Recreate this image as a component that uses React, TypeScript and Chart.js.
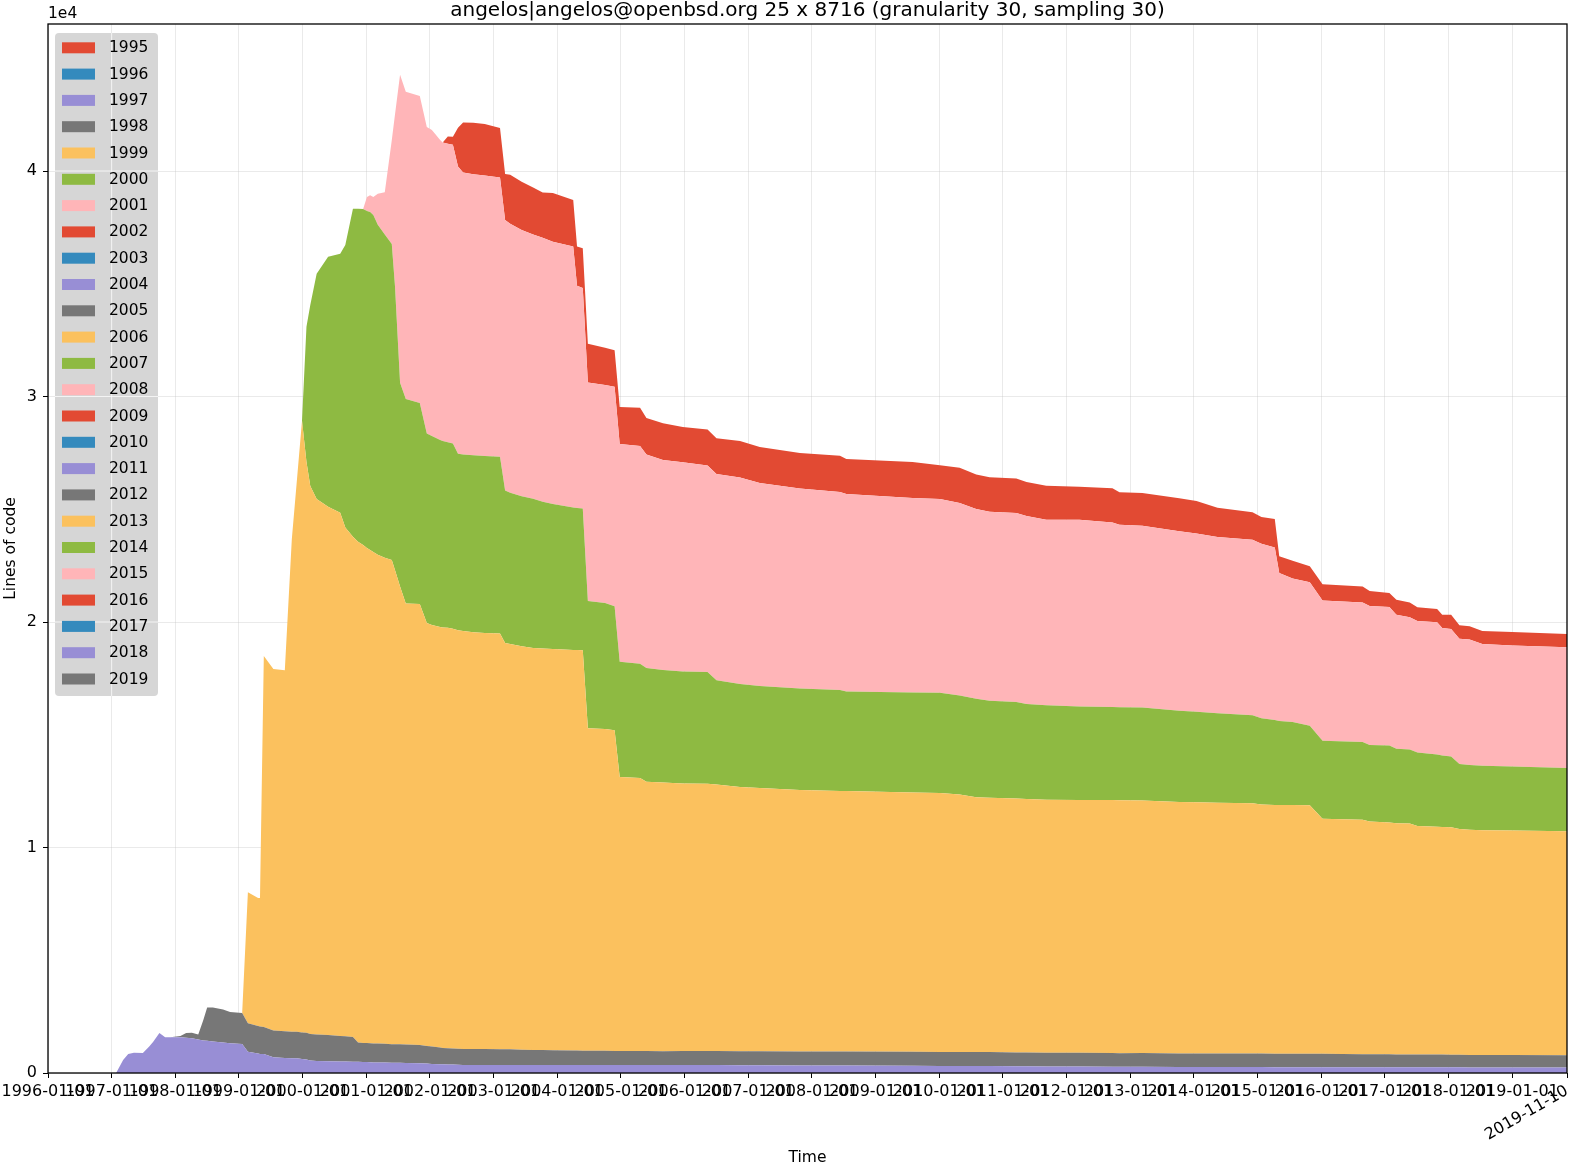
import React, { useEffect, useRef } from 'react';
import { Chart, registerables } from 'chart.js';

Chart.register(...registerables);

const TITLE = 'angelos|angelos@openbsd.org 25 x 8716 (granularity 30, sampling 30)';
const Y_LABEL = 'Lines of code';
const X_LABEL = 'Time';
const Y_OFFSET_LABEL = '1e4';
const END_DATE_LABEL = '2019-11-10';

const LEGEND_YEARS = [
  '1995', '1996', '1997', '1998', '1999', '2000', '2001', '2002', '2003', '2004',
  '2005', '2006', '2007', '2008', '2009', '2010', '2011', '2012', '2013', '2014',
  '2015', '2016', '2017', '2018', '2019',
];
const PALETTE = ['#E24A33', '#348ABD', '#988ED5', '#777777', '#FBC15E', '#8EBA42', '#FFB5B8'];

const X_TICK_YEARS = [
  1996, 1997, 1998, 1999, 2000, 2001, 2002, 2003, 2004, 2005, 2006, 2007,
  2008, 2009, 2010, 2011, 2012, 2013, 2014, 2015, 2016, 2017, 2018, 2019,
];
const X_START = 1996;
const X_END = 2019.86;
const Y_TICKS = [0, 10000, 20000, 30000, 40000];
const Y_MAX = 46520;

// sample dates (decimal years)
const X = [
  1996.00, 1997.05, 1997.07, 1997.18, 1997.26, 1997.35, 1997.49, 1997.59, 1997.65, 1997.75,
  1997.84, 1997.92, 1998.08, 1998.17, 1998.26, 1998.36, 1998.44, 1998.50, 1998.59, 1998.75,
  1998.86, 1999.05, 1999.14, 1999.30, 1999.33, 1999.39, 1999.54, 1999.72, 1999.83, 1999.91,
  1999.99, 2000.06, 2000.12, 2000.22, 2000.40, 2000.59, 2000.67, 2000.79, 2000.87, 2000.95,
  2001.01, 2001.06, 2001.11, 2001.18, 2001.29, 2001.40, 2001.45, 2001.53, 2001.62, 2001.84,
  2001.95, 2002.03, 2002.16, 2002.20, 2002.28, 2002.36, 2002.44, 2002.52, 2002.68, 2002.86,
  2003.10, 2003.18, 2003.26, 2003.44, 2003.62, 2003.77, 2003.93, 2004.25, 2004.31, 2004.40,
  2004.48, 2004.75, 2004.90, 2004.98, 2005.30, 2005.40, 2005.66, 2005.97, 2006.36, 2006.50,
  2006.87, 2007.18, 2007.81, 2008.44, 2008.54, 2009.58, 2010.01, 2010.32, 2010.58, 2010.79,
  2011.21, 2011.37, 2011.68, 2012.20, 2012.72, 2012.83, 2013.19, 2013.77, 2014.04, 2014.37,
  2014.92, 2015.06, 2015.27, 2015.34, 2015.55, 2015.82, 2016.02, 2016.65, 2016.76, 2017.07,
  2017.18, 2017.39, 2017.51, 2017.82, 2017.90, 2018.04, 2018.17, 2018.33, 2018.53, 2019.00,
  2019.86,
];

const S1997 = [
  0, 0, 0, 580, 840, 900, 890, 1170, 1370, 1770,
  1580, 1580, 1580, 1560, 1540, 1490, 1440, 1430, 1400, 1350,
  1320, 1290, 940, 860, 840, 840, 700, 670, 650, 650,
  620, 600, 550, 530, 520, 510, 510, 500, 500, 490,
  490, 480, 470, 470, 470, 460, 460, 450, 440, 430,
  420, 400, 390, 390, 380, 380, 370, 360, 350, 350,
  350, 350, 350, 350, 350, 350, 350, 350, 350, 350,
  350, 350, 350, 350, 350, 350, 350, 350, 350, 350,
  340, 340, 330, 330, 330, 320, 310, 310, 310, 310,
  300, 300, 290, 290, 280, 280, 280, 270, 270, 270,
  270, 270, 260, 260, 260, 260, 260, 250, 250, 250,
  250, 250, 250, 250, 250, 250, 250, 240, 240, 240,
  240,
];

const S1998 = [
  0, 0, 0, 0, 0, 0, 0, 0, 0, 0,
  0, 0, 60, 210, 240, 220, 910, 1470, 1510, 1470,
  1390, 1370, 1270, 1220, 1220, 1200, 1180, 1180, 1180, 1180,
  1180, 1180, 1180, 1180, 1170, 1130, 1120, 1100, 850, 840,
  840, 840, 840, 840, 830, 820, 820, 820, 820, 810,
  780, 780, 740, 720, 720, 710, 710, 700, 710, 710,
  700, 700, 700, 680, 670, 670, 660, 650, 650, 640,
  640, 640, 630, 630, 630, 630, 620, 630, 630, 630,
  620, 620, 620, 620, 620, 620, 620, 620, 620, 620,
  610, 610, 610, 610, 610, 600, 610, 600, 600, 600,
  590, 590, 590, 590, 590, 590, 590, 580, 580, 580,
  570, 570, 570, 570, 570, 560, 560, 560, 560, 560,
  550,
];

const S1999 = [
  0, 0, 0, 0, 0, 0, 0, 0, 0, 0,
  0, 0, 0, 0, 0, 0, 0, 0, 0, 0,
  0, 0, 5810, 5680, 5700, 16450, 16040, 16010, 21850, 24470,
  27120, 25320, 24300, 23750, 23420, 23200, 22560, 22180, 22210, 22090,
  21950, 21870, 21790, 21670, 21550, 21470, 21030, 20310, 19560, 19560,
  18760, 18690, 18650, 18650, 18640, 18610, 18550, 18540, 18490, 18450,
  18440, 18020, 17980, 17900, 17830, 17810, 17790, 17760, 17760, 17760,
  14300, 14260, 14220, 12150, 12100, 11940, 11910, 11860, 11850, 11810,
  11720, 11680, 11600, 11560, 11560, 11500, 11490, 11420, 11300, 11280,
  11260, 11240, 11220, 11210, 11220, 11220, 11200, 11150, 11140, 11120,
  11100, 11050, 11030, 11030, 11030, 11020, 10420, 10400, 10320, 10280,
  10260, 10250, 10130, 10100, 10090, 10090, 10010, 9990, 9970, 9950,
  9930,
];

const S2000 = [
  0, 0, 0, 0, 0, 0, 0, 0, 0, 0,
  0, 0, 0, 0, 0, 0, 0, 0, 0, 0,
  0, 0, 0, 0, 0, 0, 0, 0, 0, 0,
  0, 5990, 8030, 9980, 11090, 11490, 12530, 14550, 14770, 14900,
  14950, 14990, 14950, 14640, 14330, 14010, 12600, 9030, 9070, 8910,
  8400, 8380, 8290, 8270, 8230, 8220, 7830, 7830, 7850, 7850,
  7840, 6760, 6700, 6650, 6620, 6500, 6430, 6320, 6300, 6280,
  5640, 5590, 5500, 5110, 5070, 5040, 4990, 4970, 4950, 4630,
  4570, 4520, 4500, 4480, 4410, 4430, 4440, 4390, 4370, 4300,
  4280, 4210, 4190, 4140, 4120, 4120, 4120, 4040, 4010, 3960,
  3900, 3820, 3770, 3730, 3690, 3530, 3460, 3450, 3400, 3410,
  3300, 3280, 3260, 3210, 3170, 3140, 2880, 2870, 2860, 2840,
  2810,
];

const S2001 = [
  0, 0, 0, 0, 0, 0, 0, 0, 0, 0,
  0, 0, 0, 0, 0, 0, 0, 0, 0, 0,
  0, 0, 0, 0, 0, 0, 0, 0, 0, 0,
  0, 0, 0, 0, 0, 0, 0, 0, 0, 0,
  620, 750, 800, 1370, 1880, 4610, 7580, 13660, 13630, 13620,
  13590, 13570, 13310, 13230, 13240, 13250, 12740, 12500, 12460, 12440,
  12380, 12000, 11930, 11800, 11720, 11710, 11630, 11570, 9850, 9780,
  9690, 9670, 9730, 9650, 9660, 9470, 9310, 9270, 9160, 9140,
  9160, 9010, 8870, 8780, 8760, 8630, 8600, 8540, 8410, 8380,
  8380, 8340, 8220, 8280, 8180, 8090, 8060, 7970, 7910, 7820,
  7790, 7740, 7650, 6560, 6360, 6360, 6220, 6180, 6160, 6150,
  5940, 5860, 5830, 5860, 5650, 5650, 5560, 5560, 5390, 5370,
  5350,
];

const S2002 = [
  0, 0, 0, 0, 0, 0, 0, 0, 0, 0,
  0, 0, 0, 0, 0, 0, 0, 0, 0, 0,
  0, 0, 0, 0, 0, 0, 0, 0, 0, 0,
  0, 0, 0, 0, 0, 0, 0, 0, 0, 0,
  0, 0, 0, 0, 0, 0, 0, 0, 0, 0,
  0, 0, 0, 0, 320, 350, 1720, 2220, 2280, 2280,
  2200, 2040, 2170, 2140, 2080, 2010, 2160, 2070, 1740, 1770,
  1720, 1650, 1620, 1640, 1690, 1620, 1640, 1570, 1600, 1590,
  1620, 1590, 1580, 1600, 1550, 1600, 1490, 1560, 1530, 1530,
  1530, 1510, 1510, 1470, 1520, 1450, 1450, 1460, 1440, 1300,
  1220, 1190, 1270, 750, 790, 710, 720, 720, 670, 620,
  670, 660, 620, 590, 590, 630, 600, 590, 580, 600,
  590,
];

const SERIES = [
  { label: '1997', values: S1997, color: '#988ED5' },
  { label: '1998', values: S1998, color: '#777777' },
  { label: '1999', values: S1999, color: '#FBC15E' },
  { label: '2000', values: S2000, color: '#8EBA42' },
  { label: '2001', values: S2001, color: '#FFB5B8' },
  { label: '2002', values: S2002, color: '#E24A33' },
];

const FONT = "'DejaVu Sans', sans-serif";
const GRID = 'rgba(190,190,190,0.32)';

const overlay = {
  id: 'overlay',
  afterDraw(chart: any) {
    const { ctx, chartArea: a, scales } = chart;
    const xs = scales.x;
    const ys = scales.y;
    ctx.save();

    // spines
    ctx.strokeStyle = '#000';
    ctx.lineWidth = 1.3;
    ctx.strokeRect(a.left, a.top, a.right - a.left, a.bottom - a.top);

    // legend
    const lx = 55, ly = 33, lw = 103, lh = 663;
    ctx.fillStyle = '#d6d6d6';
    ctx.beginPath();
    if (ctx.roundRect) ctx.roundRect(lx, ly, lw, lh, 4);
    else ctx.rect(lx, ly, lw, lh);
    ctx.fill();
    // grid lines seen through the legend frame
    ctx.strokeStyle = 'rgba(255,255,255,0.75)';
    ctx.lineWidth = 1;
    X_TICK_YEARS.forEach((yr) => {
      const px = xs.getPixelForValue(yr);
      if (px > lx && px < lx + lw) {
        ctx.beginPath();
        ctx.moveTo(px, ly);
        ctx.lineTo(px, ly + lh);
        ctx.stroke();
      }
    });
    Y_TICKS.forEach((v) => {
      const py = ys.getPixelForValue(v);
      if (py > ly && py < ly + lh) {
        ctx.beginPath();
        ctx.moveTo(lx, py);
        ctx.lineTo(lx + lw, py);
        ctx.stroke();
      }
    });
    ctx.font = `15.5px ${FONT}`;
    ctx.textAlign = 'left';
    ctx.textBaseline = 'middle';
    LEGEND_YEARS.forEach((yr, i) => {
      const cy = 47.8 + i * 26.3;
      ctx.fillStyle = PALETTE[i % PALETTE.length];
      ctx.fillRect(62, cy - 5.5, 33, 11);
      ctx.fillStyle = '#000';
      ctx.fillText(yr, 109, cy + 0.5);
    });

    // title
    ctx.fillStyle = '#000';
    ctx.font = `20px ${FONT}`;
    ctx.textAlign = 'center';
    ctx.textBaseline = 'middle';
    ctx.fillText(TITLE, (a.left + a.right) / 2, 10.5);

    // offset text
    ctx.font = `15.5px ${FONT}`;
    ctx.textAlign = 'left';
    ctx.fillText(Y_OFFSET_LABEL, a.left, 14);

    // axis labels
    ctx.textAlign = 'center';
    ctx.fillText(X_LABEL, (a.left + a.right) / 2, 1158);
    ctx.save();
    ctx.translate(11, (a.top + a.bottom) / 2);
    ctx.rotate(-Math.PI / 2);
    ctx.fillText(Y_LABEL, 0, 0);
    ctx.restore();

    // rotated final date label
    ctx.font = `16px ${FONT}`;
    ctx.save();
    ctx.translate(xs.getPixelForValue(X_END) - 4, a.bottom + 10);
    ctx.rotate(-Math.PI / 6);
    ctx.textAlign = 'right';
    ctx.textBaseline = 'top';
    ctx.fillText(END_DATE_LABEL, 0, 0);
    ctx.restore();

    ctx.restore();
  },
};

export default function App() {
  const ref = useRef<HTMLCanvasElement>(null);

  useEffect(() => {
    const canvas = ref.current;
    if (!canvas) return;
    Chart.defaults.font.family = FONT;
    Chart.defaults.color = '#000';

    const datasets = SERIES.map((s, i) => ({
      label: s.label,
      data: X.map((x, j) => ({ x, y: s.values[j] })),
      backgroundColor: s.color,
      borderColor: s.color,
      borderWidth: 0,
      pointRadius: 0,
      pointHoverRadius: 0,
      tension: 0,
      fill: i === 0 ? 'origin' : '-1',
    }));

    const chart = new Chart(canvas, {
      type: 'line',
      data: { datasets },
      options: {
        animation: false,
        responsive: false,
        maintainAspectRatio: false,
        devicePixelRatio: 1,
        events: [],
        layout: { padding: { left: 0, right: 4, top: 24, bottom: 0 } },
        plugins: {
          legend: { display: false },
          tooltip: { enabled: false },
          title: { display: false },
        },
        scales: {
          x: {
            type: 'linear',
            min: X_START,
            max: X_END,
            z: 1,
            afterBuildTicks: (s: any) => {
              s.ticks = [...X_TICK_YEARS.map((v) => ({ value: v })), { value: X_END }];
            },
            afterFit: (s: any) => {
              s.height = 94;
              s.paddingLeft = 0;
              s.paddingRight = 0;
            },
            ticks: {
              autoSkip: false,
              maxRotation: 0,
              minRotation: 0,
              padding: 4,
              color: '#000',
              font: { size: 16, family: FONT },
              callback: (v: any) => (Number.isInteger(v) ? `${v}-01-01` : ''),
            },
            grid: {
              color: (c: any) => (c.tick && c.tick.value === X_END ? 'rgba(0,0,0,0)' : GRID),
              tickColor: '#000',
              tickLength: 5,
              lineWidth: 1,
            },
            border: { display: false },
          },
          y: {
            type: 'linear',
            stacked: true,
            min: 0,
            max: Y_MAX,
            z: 1,
            afterBuildTicks: (s: any) => {
              s.ticks = Y_TICKS.map((v) => ({ value: v }));
            },
            afterFit: (s: any) => {
              s.width = 48;
              s.paddingTop = 0;
              s.paddingBottom = 0;
            },
            ticks: {
              padding: 6,
              color: '#000',
              font: { size: 16, family: FONT },
              callback: (v: any) => String(v / 10000),
            },
            grid: {
              color: GRID,
              tickColor: '#000',
              tickLength: 5,
              lineWidth: 1,
            },
            border: { display: false },
          },
        },
      },
      plugins: [overlay],
    } as any);

    return () => chart.destroy();
  }, []);

  return (
    <div style={{ position: 'absolute', left: 0, top: 0, width: 1571, height: 1167, background: '#fff' }}>
      <canvas ref={ref} width={1571} height={1167} style={{ display: 'block' }} />
    </div>
  );
}
